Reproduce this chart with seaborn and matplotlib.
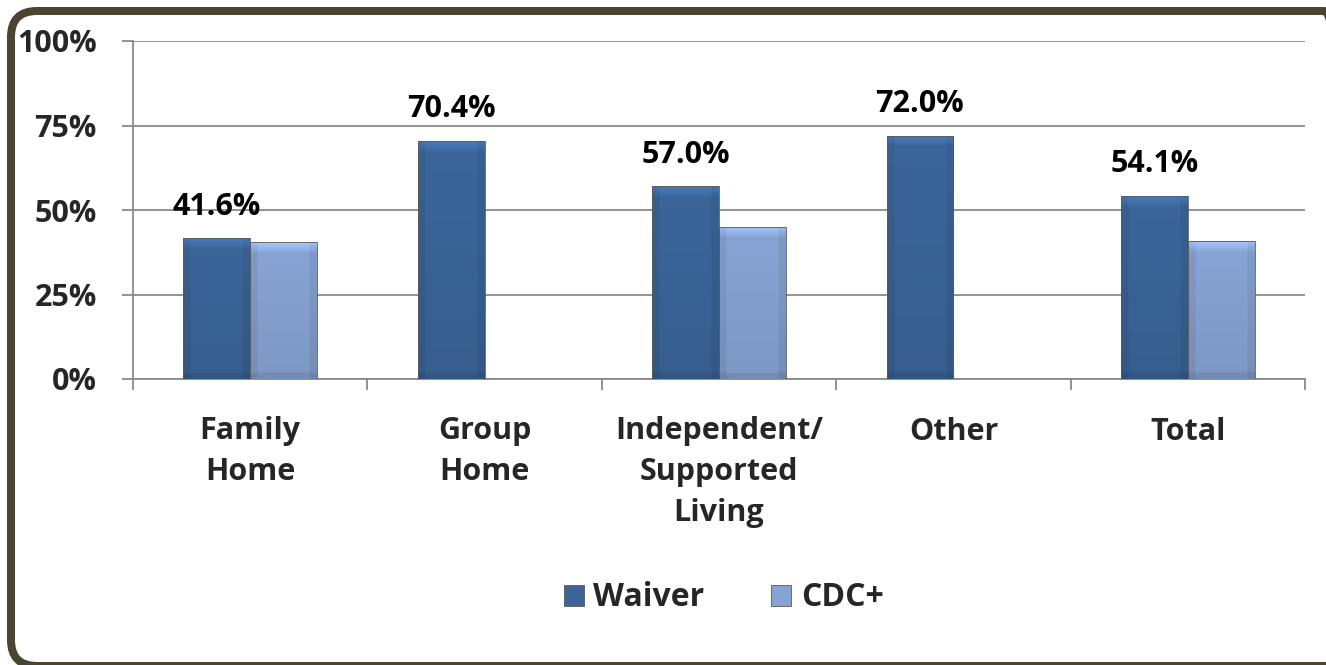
import numpy as np
import pandas as pd
import matplotlib
matplotlib.use("Agg")
import matplotlib.pyplot as plt
import seaborn as sns
from matplotlib.patches import FancyBboxPatch
from matplotlib.colors import to_rgb

categories = ["Family\nHome", "Group\nHome", "Independent/\nSupported\nLiving", "Other", "Total"]
series = ["Waiver", "CDC+"]
waiver = [41.6, 70.4, 57.0, 72.0, 54.1]
cdc = [40.5, np.nan, 45.0, np.nan, 40.8]
yticks = [0, 25, 50, 75, 100]
ytick_labels = ["0%", "25%", "50%", "75%", "100%"]

df = pd.DataFrame({
    "Category": categories * 2,
    "Series": ["Waiver"] * len(categories) + ["CDC+"] * len(categories),
    "Value": waiver + cdc,
})

sns.set_theme(style="white")
plt.rcParams["font.family"] = ["Open Sans", "DejaVu Sans"]
plt.rcParams["font.weight"] = "bold"

W, H = 1326, 665
fig = plt.figure(figsize=(W / 100, H / 100), dpi=100)
fig.patch.set_facecolor("white")
ax = fig.add_axes([133 / W, 1 - 379 / H, (1305 - 133) / W, (379 - 41) / H])

palette = {"Waiver": "#3b6599", "CDC+": "#87a3d3"}
sns.barplot(data=df, x="Category", y="Value", hue="Series", order=categories,
            hue_order=series, palette=palette, width=0.57, gap=0, saturation=1,
            errorbar=None, edgecolor="#5a5a5a", linewidth=0.6, ax=ax, zorder=3)

ax.set_xlim(-0.5, len(categories) - 0.5)
ax.set_ylim(0, 100)

# bevel-like shading on bars
def shade(color, hpx, wpx):
    base = np.array(to_rgb(color))
    ny, nx = 300, 80
    t = np.linspace(1, 0, ny)[:, None]
    u = np.linspace(0, 1, nx)[None, :]
    f = 0.93 + 0.08 * t
    bevel_y = 11.0 / max(hpx, 1)
    top_band = np.clip((t - (1 - bevel_y)) / bevel_y, 0, 1)
    f = f + 0.22 * top_band
    edge = 7.0 / wpx
    side = (u < edge) | (u > 1 - edge)
    f = f - 0.06 * side
    bottom = (t < 6.0 / max(hpx, 1))
    f = f - 0.07 * bottom
    f = f * np.ones((ny, nx))
    return np.clip(base[None, None, :] * f[:, :, None], 0, 1)

for p in list(ax.patches):
    x, y, w, h = p.get_x(), p.get_y(), p.get_width(), p.get_height()
    if not np.isfinite(h) or h <= 0:
        continue
    fc = p.get_facecolor()
    col = palette["Waiver"] if fc[0] < 0.4 else palette["CDC+"]
    hpx = h / 100 * 338
    wpx = w * 1172 / 5
    im = ax.imshow(shade(col, hpx, wpx), extent=[x, x + w, y, y + h],
                   aspect="auto", zorder=3.5, interpolation="bilinear")
    im.set_clip_path(p)
    p.set_zorder(3.6)
    p.set_facecolor("none")

ax.set_xlim(-0.5, len(categories) - 0.5)
ax.set_ylim(0, 100)
ax.set_aspect("auto")

ax.bar_label(ax.containers[0], labels=[f"{v:.1f}%" for v in waiver],
             padding=12, fontsize=22, fontweight="bold", color="black")

grid_c = "#8a8a8a"
ax.set_yticks(yticks, ytick_labels)
ax.yaxis.grid(True, color=grid_c, linewidth=1.3, zorder=0)
ax.set_axisbelow(True)
ax.tick_params(axis="y", length=8, width=1.3, color=grid_c, pad=18,
               labelsize=22, left=True)
for lab in ax.get_yticklabels():
    lab.set_fontweight("bold")

ax.set_xticks(range(len(categories)), categories)
ax.set_xticks(np.arange(-0.5, len(categories), 1), minor=True)
ax.tick_params(axis="x", which="major", length=0, pad=27, labelsize=22)
ax.tick_params(axis="x", which="minor", length=8, width=1.3, color=grid_c,
               bottom=True)
for lab in ax.get_xticklabels():
    lab.set_fontweight("bold")
    lab.set_linespacing(1.46)
    lab.set_verticalalignment("top")

for s in ["top", "right"]:
    ax.spines[s].set_visible(False)
for s in ["left", "bottom"]:
    ax.spines[s].set_color(grid_c)
    ax.spines[s].set_linewidth(1.3)
ax.set_xlabel("")
ax.set_ylabel("")

leg = ax.legend(loc="center", bbox_to_anchor=(0.504, (379 - 598) / 338), ncol=2,
                frameon=False, handlelength=0.62, handleheight=0.62,
                columnspacing=2.1, handletextpad=0.3,
                prop={"size": 23, "weight": "bold"})
for hnd in leg.legend_handles:
    hnd.set_edgecolor("#5a5a5a")
    hnd.set_linewidth(0.6)

# rounded frame, drawn on a full-figure overlay in pixel units
ov = fig.add_axes([0, 0, 1, 1], zorder=10)
ov.set_xlim(0, W)
ov.set_ylim(0, H)
ov.axis("off")
ov.patch.set_alpha(0)
border = FancyBboxPatch((11, -1), 1350 - 11, 654 + 1,
                        boxstyle="round,pad=0,rounding_size=26",
                        facecolor="none", edgecolor="#4b4430",
                        linewidth=8 * 0.72, clip_on=False)
ov.add_patch(border)

fig.savefig("out.png", dpi=100, facecolor="white")
